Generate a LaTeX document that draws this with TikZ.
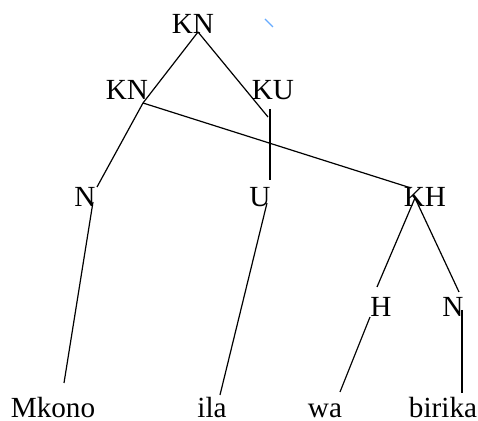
\documentclass[tikz,border=0pt]{standalone}
\usepackage{fontspec}
\setmainfont{Liberation Serif}
\usepackage{tikz}
\tikzset{
  tree_font/.style = {font=\fontsize{14.6}{17}\selectfont},
  label/.style = {tree_font, anchor=base, inner sep=0},
  branch/.style = {line width=0.6pt, black},
  stray/.style = {line width=0.6pt, blue!55!cyan!60}
}
\begin{document}
\begin{tikzpicture}[x=0.5pt, y=-0.5pt]
        \useasboundingbox (0,0) rectangle (478,421);

        % Labels
        \node[label] at (193,34) (kn_top) {KN};
        \node[label] at (127,100) (kn_left) {KN};
        \node[label] at (273,100) (ku) {KU};
        \node[label] at (85,207) (n_left) {N};
        \node[label] at (260,207) (u) {U};
        \node[label] at (425,207) (kh) {KH};
        \node[label] at (381,317) (h) {H};
        \node[label] at (453,317) (n_right) {N};

        % Words
        \node[label] at (53,418) (w_mkono) {Mkono};
        \node[label] at (212,418) (w_ila) {ila};
        \node[label] at (325,418) (w_wa) {wa};
        \node[label] at (443,418) (w_birika) {birika};

        % Branch ends
        \coordinate (kn_top_b) at (198,32);
        \coordinate (kn_left_t) at (143,103);
        \coordinate (ku_t) at (268,117);
        \coordinate (ku_b) at (270,109);
        \coordinate (u_t) at (270,180);
        \coordinate (u_b) at (267,203);
        \coordinate (kh_t) at (411,188);
        \coordinate (kh_b) at (415,198);
        \coordinate (n_left_t) at (97,187);
        \coordinate (n_left_b) at (93,202);
        \coordinate (h_t) at (377,287);
        \coordinate (h_b) at (370,317);
        \coordinate (n_right_t) at (459,292);
        \coordinate (n_right_b) at (462,310);
        \coordinate (mkono_t) at (64,383);
        \coordinate (ila_t) at (220,395);
        \coordinate (wa_t) at (340,392);
        \coordinate (birika_t) at (462,393);
        \coordinate (stray_a) at (265,19);
        \coordinate (stray_b) at (273,27);

        % Lines
        \draw[branch] (kn_top_b)--(kn_left_t);
        \draw[branch] (kn_top_b)--(ku_t);
        \draw[branch] (ku_b)--(u_t);
        \draw[branch] (kn_left_t)--(kh_t);
        \draw[branch] (kn_left_t)--(n_left_t);
        \draw[branch] (n_left_b)--(mkono_t);
        \draw[branch] (u_b)--(ila_t);
        \draw[branch] (kh_b)--(h_t);
        \draw[branch] (kh_b)--(n_right_t);
        \draw[branch] (h_b)--(wa_t);
        \draw[branch] (n_right_b)--(birika_t);
        \draw[stray] (stray_a)--(stray_b);
\end{tikzpicture}
\end{document}
